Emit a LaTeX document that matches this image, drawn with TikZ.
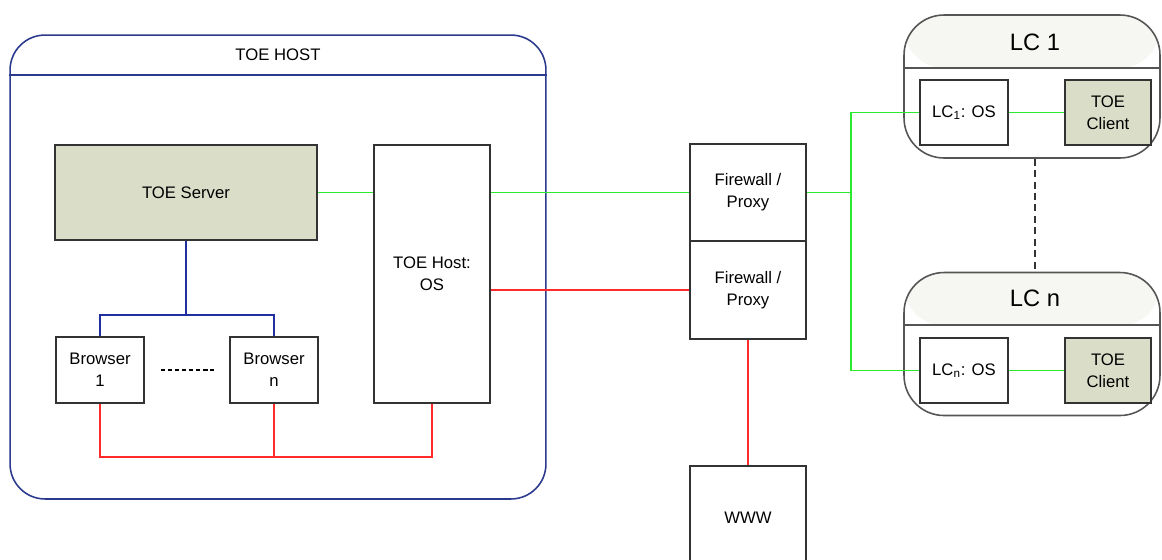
\documentclass[tikz,border=0pt]{standalone}
\usepackage{fontspec}
\setmainfont{Liberation Sans}
\usepackage{tikz}
\usetikzlibrary{positioning, calc}
\definecolor{ink}{HTML}{333333}
\definecolor{srvfill}{HTML}{DADEC8}
\definecolor{hostblue}{HTML}{2C3A8E}
\definecolor{lnkblue}{HTML}{1F2F9E}
\definecolor{lnkgreen}{HTML}{2EEA2E}
\definecolor{lnkred}{HTML}{FF2B2B}
\definecolor{lcedge}{HTML}{555555}
\definecolor{lchead}{HTML}{F6F6F2}
\tikzset{
  bx/.style={draw=ink, line width=1.1pt, fill=white, inner sep=0pt,
    align=center, font=\fontsize{9.5}{12.5}\selectfont},
  bxs/.style={bx, fill=srvfill},
  hostfr/.style={draw=hostblue, line width=0.9pt, rounded corners=0.7cm,
    minimum width=10.72cm, minimum height=9.28cm, inner sep=0pt},
  lcfr/.style={draw=lcedge, line width=0.9pt, rounded corners=0.8cm,
    minimum width=5.12cm, minimum height=2.86cm, inner sep=0pt,
    path picture={\fill[lchead] (path picture bounding box.north west)
      rectangle ([yshift=-1.06cm]path picture bounding box.north east);}},
  ttl/.style={font=\fontsize{9.5}{11}\selectfont},
  lcttl/.style={font=\fontsize{13.5}{15}\selectfont},
  lkg/.style={draw=lnkgreen, line width=1pt},
  lkr/.style={draw=lnkred, line width=1pt},
  lkb/.style={draw=lnkblue, line width=1pt},
}
\begin{document}
\begin{tikzpicture}[x=0.02cm, y=-0.02cm]
  \useasboundingbox (0,0) rectangle (1162,559);
  % TOE host frame
  \node[hostfr] (host) at (278,267) {};
  \node[ttl] (hostt) at (278,55) {TOE HOST};
  \draw[draw=hostblue, line width=0.9pt] (host.west |- 0,75) -- (host.east |- 0,75);
  \node[bxs, minimum width=5.24cm, minimum height=1.9cm] (srv) at (186,192.5) {TOE Server};
  \node[bx, minimum width=2.32cm, minimum height=5.16cm] (os) at (432,274) {TOE Host:\\OS};
  \node[bx, minimum width=1.76cm, minimum height=1.32cm] (br1) at (100,370) {Browser\\1};
  \node[bx, minimum width=1.76cm, minimum height=1.32cm] (brn) at (274,370) {Browser\\n};
  % firewalls and www
  \node[bx, minimum width=2.32cm, minimum height=1.94cm] (fw1) at (748,192.5) {Firewall /\\Proxy};
  \node[bx, minimum width=2.32cm, minimum height=1.96cm, below=-1.1pt of fw1] (fw2) {Firewall /\\Proxy};
  \node[bx, minimum width=2.32cm, minimum height=2.08cm] (www) at (748,518) {WWW};
  % local clients
  \node[lcfr] (lc1) at (1032,86.5) {};
  \node[lcttl] (lc1t) at (1035,42) {LC 1};
  \draw[draw=lcedge, line width=0.9pt] (lc1.west |- 0,68) -- (lc1.east |- 0,68);
  \node[bx, minimum width=1.76cm, minimum height=1.3cm] (os1) at (964,112.5) {LC\textsubscript{1}: OS};
  \node[bxs, minimum width=1.72cm, minimum height=1.3cm] (cl1) at (1108,112.5) {TOE\\Client};
  \node[lcfr] (lcn) at (1032,344) {};
  \node[lcttl] (lcnt) at (1035,298) {LC n};
  \draw[draw=lcedge, line width=0.9pt] (lcn.west |- 0,325) -- (lcn.east |- 0,325);
  \node[bx, minimum width=1.76cm, minimum height=1.3cm] (osn) at (964,370.5) {LC\textsubscript{n}: OS};
  \node[bxs, minimum width=1.72cm, minimum height=1.3cm] (cln) at (1108,370.5) {TOE\\Client};
  % links
  \draw[lkb] (srv.south) -- ++(0,74) coordinate (bbus);
  \draw[lkb] (br1.north) |- (bbus) -| (brn.north);
  \draw[line width=1pt, dash pattern=on 2.5pt off 1.5pt, shorten <=0.32cm, shorten >=0.3cm] (br1.east) -- (brn.west);
  \draw[lkr] (br1.south) -- ++(0,53) coordinate (rbus) -| (os.south);
  \draw[lkr] (brn.south) -- (brn.south |- rbus);
  \draw[lkg] (srv.east) -- (srv.east -| os.west);
  \draw[lkg] (fw1.west -| os.east) -- (fw1.west);
  \draw[lkr] (fw2.west -| os.east) -- (fw2.west);
  \draw[lkr] (fw2.south) -- (www.north);
  \draw[lkg] (fw1.east) -- ++(44,0) coordinate (gsplit);
  \draw[lkg] (os1.west) -| (gsplit) |- (osn.west);
  \draw[lkg] (os1.east) -- (cl1.west);
  \draw[lkg] (osn.east) -- (cln.west);
  \draw[ink, line width=0.9pt, dash pattern=on 4pt off 2.5pt] (lc1.south -| lc1t) -- (lcn.north -| lc1t);
\end{tikzpicture}
\end{document}
